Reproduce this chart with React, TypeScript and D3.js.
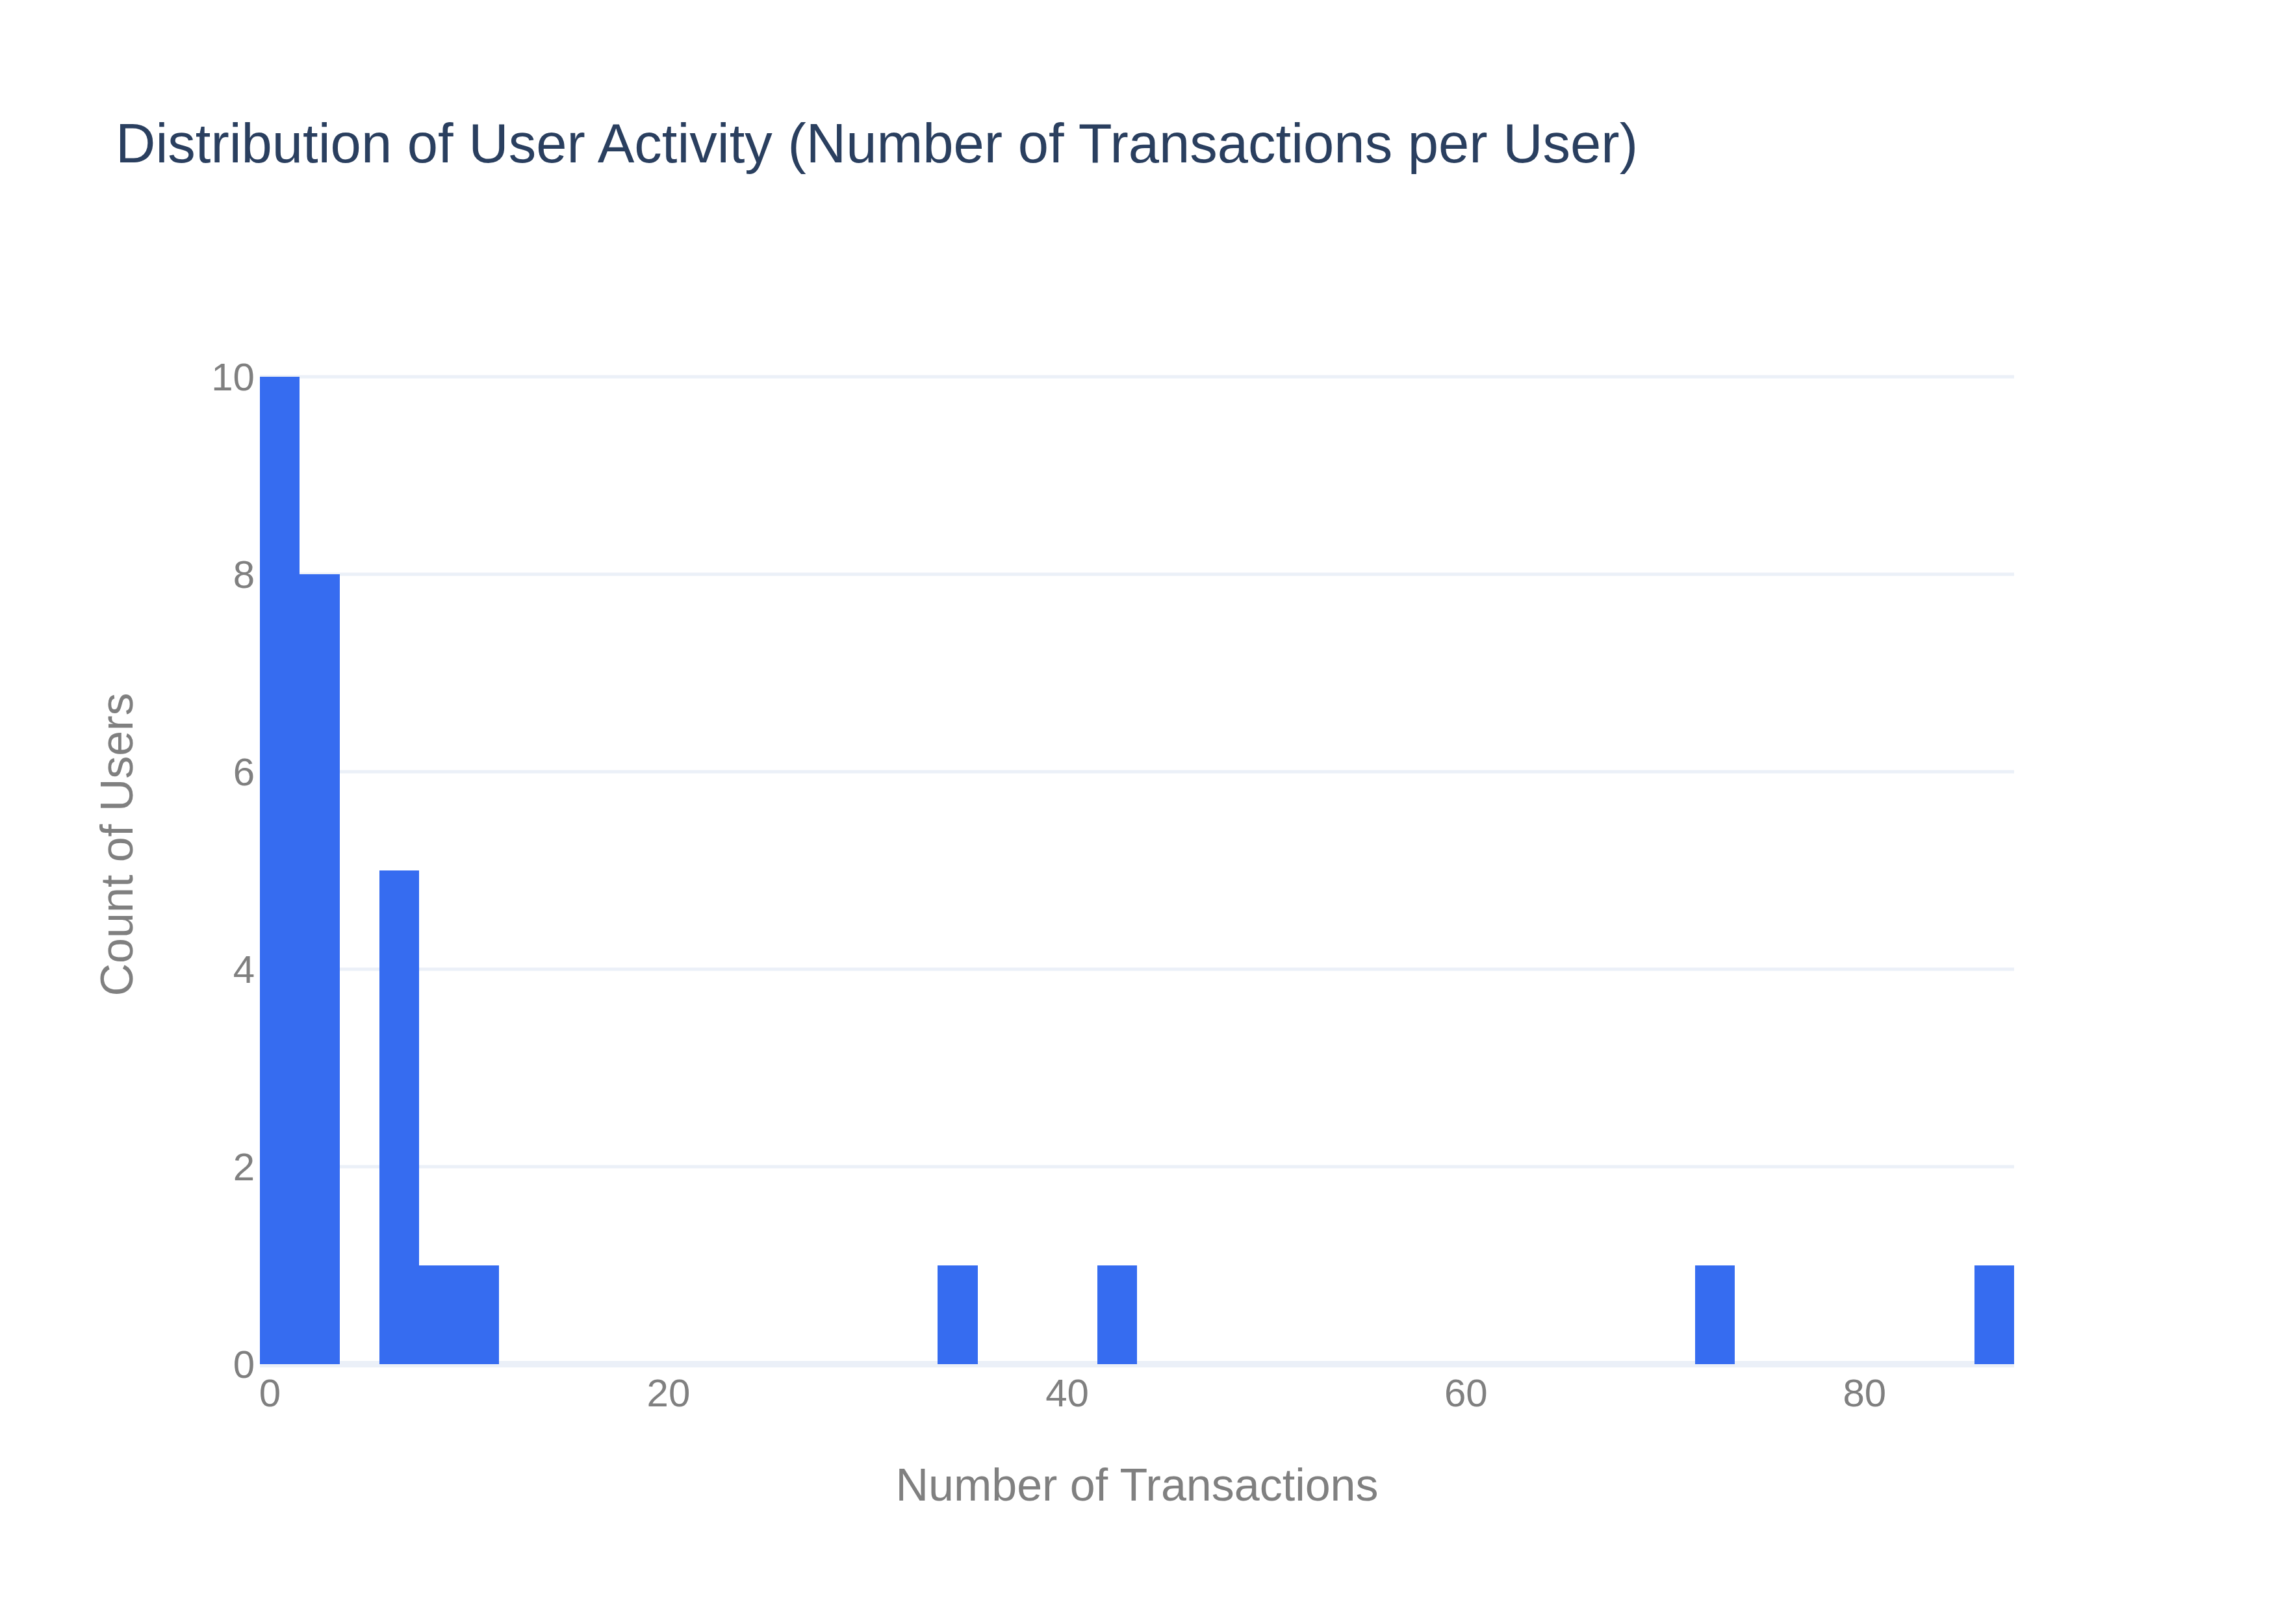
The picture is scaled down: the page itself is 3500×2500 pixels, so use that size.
import React from 'react';
import * as d3 from 'd3';

// histogram bins (left edge of each non-empty bin, width binSize)
const binLeft = [-0.5, 1.5, 5.5, 7.5, 9.5, 33.5, 41.5, 71.5, 85.5];
const counts = [10, 8, 5, 1, 1, 1, 1, 1, 1];
const binSize = 2;

const xTicks = [0, 20, 40, 60, 80];
const yTicks = [0, 2, 4, 6, 8, 10];

const W = 3500;
const H = 2500;
const margin = { top: 500, right: 400, bottom: 400, left: 400 };
const font = '"Liberation Sans", Arial, Helvetica, sans-serif';

const App = () => {
  const x = d3.scaleLinear().domain([-0.5, 87.5]).range([margin.left, W - margin.right]);
  const y = d3.scaleLinear().domain([0, 10.526]).range([H - margin.bottom, margin.top]);

  return (
    <svg
      width={W}
      height={H}
      style={{ position: 'absolute', left: 0, top: 0, background: '#fff' }}
      fontFamily={font}
    >
      {/* horizontal grid */}
      {yTicks.filter((t) => t > 0).map((t) => (
        <line key={t} x1={margin.left} x2={W - margin.right} y1={y(t)} y2={y(t)} stroke="#EBF0F8" strokeWidth={5} />
      ))}
      {/* zero line */}
      <line x1={margin.left} x2={W - margin.right} y1={y(0)} y2={y(0)} stroke="#EBF0F8" strokeWidth={10} />

      {binLeft.map((b, i) => (
        <rect
          key={i}
          x={x(b)}
          y={y(counts[i])}
          width={x(b + binSize) - x(b)}
          height={y(0) - y(counts[i])}
          fill="#366CF0"
          shapeRendering="crispEdges"
        />
      ))}

      {/* y tick labels */}
      {yTicks.map((t) => (
        <text key={t} x={margin.left - 8} y={y(t)} dy="0.35em" textAnchor="end" fontSize={60} fill="#808080">
          {t}
        </text>
      ))}
      {/* x tick labels */}
      {xTicks.map((t) => (
        <text key={t} x={x(t)} y={2165} textAnchor="middle" fontSize={60} fill="#808080">
          {t}
        </text>
      ))}

      <text x={(margin.left + W - margin.right) / 2} y={2310} textAnchor="middle" fontSize={70} fill="#808080">
        Number of Transactions
      </text>
      <text
        transform={`translate(204, ${(margin.top + H - margin.bottom) / 2}) rotate(-90)`}
        textAnchor="middle"
        fontSize={70}
        fill="#808080"
      >
        Count of Users
      </text>

      <text x={178} y={250} fontSize={85} fill="#2a3f5f">
        Distribution of User Activity (Number of Transactions per User)
      </text>
    </svg>
  );
};

export default App;
